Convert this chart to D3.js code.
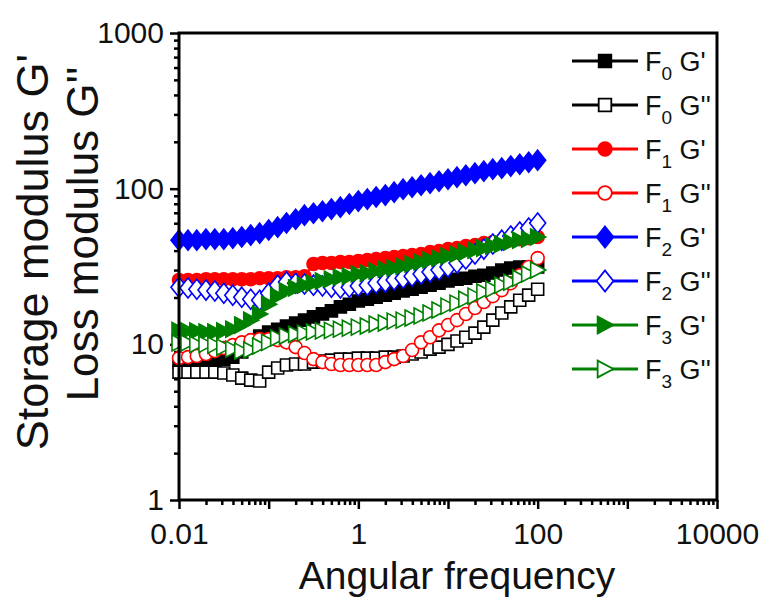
<!DOCTYPE html>
<html>
<head>
<meta charset="utf-8">
<script src="https://cdn.jsdelivr.net/npm/d3@7"></script>
<style>
  html, body { margin: 0; padding: 0; background: #fff; }
  svg { display: block; font-family: "Liberation Sans", Arial, sans-serif; }
</style>
</head>
<body>
<svg id="chart" width="769" height="601"></svg>
<script>
// Angular frequency sweep (10 points per decade)
const freq = [0.01, 0.0126, 0.0158, 0.02, 0.0251, 0.0316, 0.0398, 0.0501, 0.0631, 0.0794,
  0.1, 0.126, 0.158, 0.2, 0.251, 0.316, 0.398, 0.501, 0.631, 0.794,
  1, 1.26, 1.58, 2, 2.51, 3.16, 3.98, 5.01, 6.31, 7.94,
  10, 12.6, 15.8, 20, 25.1, 31.6, 39.8, 50.1, 63.1, 79.4, 100];

const f0Storage = [7.69, 7.69, 7.81, 7.81, 7.92, 8.04, 8.28, 8.92, 10.2, 11.3,
  12.0, 12.5, 13.1, 13.7, 14.3, 15.0, 15.7, 16.4, 17.4, 18.1,
  19.0, 19.5, 20.1, 20.7, 21.3, 22.0, 22.6, 23.3, 24.0, 24.7,
  25.5, 26.2, 26.6, 27.4, 27.8, 28.7, 30.0, 30.9, 31.4, 31.4, 31.4];
const f0Loss = [6.63, 6.63, 6.63, 6.63, 6.63, 6.54, 6.35, 6.07, 5.89, 5.81,
  6.63, 7.04, 7.36, 7.47, 7.47, 7.69, 7.81, 7.92, 8.04, 8.04,
  8.16, 8.16, 8.16, 8.28, 8.28, 8.41, 8.66, 8.92, 9.32, 9.6,
  10.0, 10.5, 11.1, 11.8, 12.9, 14.3, 15.9, 17.4, 19.2, 20.7, 22.6];
const f1Storage = [25.9, 25.9, 25.9, 26.2, 26.2, 26.2, 26.2, 26.2, 26.2, 26.6,
  26.6, 26.6, 27.0, 27.0, 27.4, 32.8, 33.3, 33.3, 33.8, 33.8,
  34.3, 34.8, 35.3, 35.8, 36.3, 36.9, 37.4, 38.0, 39.1, 39.7,
  40.9, 41.5, 42.8, 43.4, 44.7, 45.4, 46.0, 46.7, 47.4, 48.1, 48.9];
const f1Loss = [8.16, 8.28, 8.41, 8.66, 9.05, 9.46, 9.89, 10.3, 10.65, 10.8,
  10.8, 10.65, 10.3, 9.6, 8.79, 8.04, 7.69, 7.47, 7.36, 7.36,
  7.36, 7.36, 7.36, 7.69, 8.04, 8.41, 9.19, 10.3, 11.1, 12.3,
  13.3, 14.3, 15.65, 17.1, 18.7, 20.4, 22.3, 24.7, 27.8, 31.4, 35.8];
const f2Storage = [46.7, 46.7, 46.7, 47.4, 47.4, 47.4, 48.1, 48.9, 50.3, 51.8,
  54.2, 56.6, 60.1, 63.7, 67.6, 69.6, 71.7, 73.9, 76.1, 79.6,
  83.2, 85.7, 88.3, 90.9, 95.0, 99.3, 102.2, 105.3, 108.5, 111.7,
  115.1, 118.6, 122.1, 125.8, 129.6, 133.5, 135.5, 139.6, 143.7, 148.0, 152.5];
const f2Loss = [23.3, 23.0, 22.6, 22.3, 22.0, 21.3, 20.7, 20.1, 19.5, 19.2,
  21.3, 24.0, 25.1, 24.7, 24.4, 24.0, 23.7, 23.3, 23.0, 23.3,
  23.7, 24.0, 24.7, 25.1, 25.9, 26.6, 27.4, 28.3, 29.1, 30.0,
  31.4, 33.3, 35.3, 38.0, 40.9, 44.05, 46.7, 49.6, 52.6, 55.8, 60.1];
const f3Storage = [12.3, 12.2, 12.2, 12.0, 12.0, 12.2, 12.5, 13.3, 14.3, 15.65,
  18.1, 20.4, 22.0, 23.0, 24.0, 24.7, 25.5, 26.2, 27.0, 27.4,
  28.3, 28.7, 29.6, 30.4, 30.9, 31.8, 32.8, 33.8, 34.8, 35.8,
  36.9, 38.0, 39.1, 40.3, 41.5, 42.8, 44.05, 45.4, 46.7, 47.4, 48.9];
const f3Loss = [10.2, 10.2, 10.0, 10.0, 9.89, 9.6, 9.32, 9.05, 9.19, 9.75,
  10.3, 11.0, 11.3, 11.6, 11.8, 12.0, 12.2, 12.3, 12.5, 12.7,
  12.9, 13.1, 13.5, 13.7, 14.1, 14.3, 14.75, 15.2, 15.9, 16.6,
  17.6, 18.4, 19.5, 20.4, 21.7, 22.6, 24.0, 25.1, 26.6, 28.3, 30.0];

const sampleNames = ['0', '0', '1', '1', '2', '2', '3', '3'];
const moduliNames = ["G'", "G''", "G'", "G''", "G'", "G''", "G'", "G''"];

const xMajorTicks = [0.01, 0.1, 1, 10, 100, 1000, 10000];
const xLabelTicks = [0.01, 1, 100, 10000];
const yMajorTicks = [1, 10, 100, 1000];

// series setup
const series = [
  { values: f0Storage, color: '#000000', shape: 'square', open: false },
  { values: f0Loss, color: '#000000', shape: 'square', open: true },
  { values: f1Storage, color: '#ff0000', shape: 'circle', open: false },
  { values: f1Loss, color: '#ff0000', shape: 'circle', open: true },
  { values: f2Storage, color: '#0000ff', shape: 'diamond', open: false },
  { values: f2Loss, color: '#0000ff', shape: 'diamond', open: true },
  { values: f3Storage, color: '#008000', shape: 'triangle', open: false },
  { values: f3Loss, color: '#008000', shape: 'triangle', open: true }
];

const margin = { left: 179, right: 52, top: 33, bottom: 101 };
const width = 769, height = 601;
const svg = d3.select('#chart');

const x = d3.scaleLog().domain([0.01, 10000]).range([margin.left, width - margin.right]);
const y = d3.scaleLog().domain([1, 1000]).range([height - margin.bottom, margin.top]);

function minorTicks(lo, hi) {
  const out = [];
  for (let d = lo; d < hi; d *= 10) {
    for (let k = 2; k <= 9; k++) out.push(d * k);
  }
  return out;
}

// marker shapes, s = scale
function markerPath(shape, s) {
  const p = d3.path();
  if (shape === 'square') {
    const h = 6 * s;
    p.rect(-h, -h, 2 * h, 2 * h);
  } else if (shape === 'circle') {
    p.arc(0, 0, 6.5 * s, 0, 2 * Math.PI);
  } else if (shape === 'diamond') {
    p.moveTo(0, -10 * s); p.lineTo(8 * s, 0); p.lineTo(0, 10 * s); p.lineTo(-8 * s, 0); p.closePath();
  } else {
    p.moveTo(-7 * s, -8 * s); p.lineTo(8 * s, 0); p.lineTo(-7 * s, 8 * s); p.closePath();
  }
  return p.toString();
}

// axes
const tickFmt = d3.format('~g');
svg.append('g')
  .attr('transform', `translate(0,${height - margin.bottom})`)
  .call(d3.axisBottom(x).tickValues(xMajorTicks).tickSize(9).tickPadding(14)
    .tickFormat(d => xLabelTicks.includes(d) ? tickFmt(d) : ''));
svg.append('g')
  .attr('transform', `translate(0,${height - margin.bottom})`)
  .call(d3.axisBottom(x).tickValues(minorTicks(0.01, 10000)).tickSize(5).tickFormat(''));

svg.append('g')
  .attr('transform', `translate(${margin.left},0)`)
  .call(d3.axisLeft(y).tickValues(yMajorTicks).tickSize(9).tickPadding(6).tickFormat(tickFmt));
svg.append('g')
  .attr('transform', `translate(${margin.left},0)`)
  .call(d3.axisLeft(y).tickValues(minorTicks(1, 1000)).tickSize(5).tickFormat(''));

svg.selectAll('.domain').remove();
svg.selectAll('.tick line').attr('stroke', '#000').attr('stroke-width', 2.5);
svg.selectAll('.tick text')
  .attr('fill', '#111')
  .style('font-size', '30px');

// data
const plot = svg.append('g');
const line = d3.line().x((d, i) => x(freq[i])).y(d => y(d));

series.forEach(s => {
  const g = plot.append('g');
  g.append('path')
    .attr('d', line(s.values))
    .attr('fill', 'none')
    .attr('stroke', s.color)
    .attr('stroke-width', 2);
  g.selectAll('path.mk')
    .data(s.values)
    .enter().append('path')
    .attr('class', 'mk')
    .attr('transform', (d, i) => `translate(${x(freq[i])},${y(d)})`)
    .attr('d', markerPath(s.shape, 1))
    .attr('fill', s.open ? '#fff' : s.color)
    .attr('stroke', s.color)
    .attr('stroke-width', 1.6);
});

// frame
svg.append('rect')
  .attr('x', margin.left).attr('y', margin.top)
  .attr('width', width - margin.left - margin.right)
  .attr('height', height - margin.top - margin.bottom)
  .attr('fill', 'none')
  .attr('stroke', '#000')
  .attr('stroke-width', 3);

// legend
const legend = svg.append('g');
series.forEach((s, i) => {
  const ly = 61 + i * 44;
  legend.append('line')
    .attr('x1', 572).attr('x2', 638)
    .attr('y1', ly).attr('y2', ly)
    .attr('stroke', s.color).attr('stroke-width', 3);
  legend.append('path')
    .attr('transform', `translate(605,${ly})`)
    .attr('d', markerPath(s.shape, 1.05))
    .attr('fill', s.open ? '#fff' : s.color)
    .attr('stroke', s.color)
    .attr('stroke-width', 1.8);
  const t = legend.append('text')
    .attr('x', 645).attr('y', ly + 10)
    .attr('fill', '#111')
    .style('font-size', '27px');
  t.append('tspan').text('F');
  t.append('tspan').attr('dy', 9).style('font-size', '19px').text(sampleNames[i]);
  t.append('tspan').attr('dy', -9).text(' ' + moduliNames[i]);
});

// axis titles
svg.append('text')
  .attr('x', 457).attr('y', 589)
  .attr('text-anchor', 'middle')
  .attr('fill', '#111')
  .style('font-size', '39px')
  .text('Angular frequency');

svg.append('text')
  .attr('transform', 'translate(48,252) rotate(-90)')
  .attr('text-anchor', 'middle')
  .attr('fill', '#111')
  .style('font-size', '45px')
  .text("Storage modulus G'");
svg.append('text')
  .attr('transform', 'translate(98,234) rotate(-90)')
  .attr('text-anchor', 'middle')
  .attr('fill', '#111')
  .style('font-size', '44px')
  .text("Loss modulus G''");
</script>
</body>
</html>
